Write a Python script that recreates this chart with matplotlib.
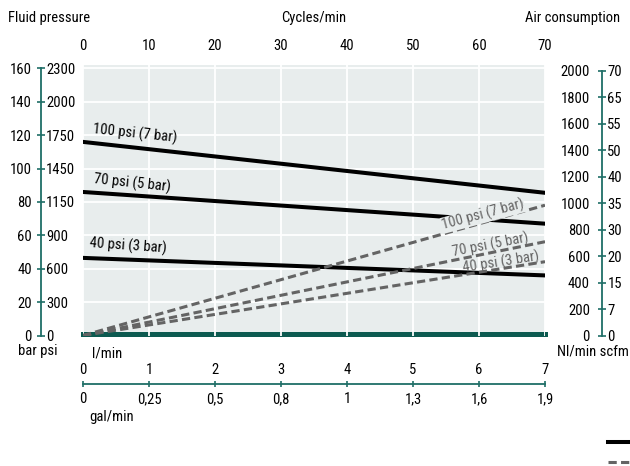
import numpy as np
import matplotlib.pyplot as plt
from matplotlib.lines import Line2D

plt.rcParams['font.family'] = ['Roboto Condensed', 'Liberation Sans Narrow', 'DejaVu Sans']
plt.rcParams['font.size'] = 10.5

# data
cycles = [0, 70]
p100_bar = [116, 85.5]
p70_bar = [86, 67]
p40_bar = [46.5, 36]
a100_nl = [0, 985]
a70_nl = [0, 709]
a40_nl = [0, 558]

cycle_ticks = [0, 10, 20, 30, 40, 50, 60, 70]
bar_ticks = [0, 20, 40, 60, 80, 100, 120, 140, 160]
psi_labels = ['0', '300', '600', '900', '1150', '1450', '1750', '2000', '2300']
nl_ticks = [0, 200, 400, 600, 800, 1000, 1200, 1400, 1600, 1800, 2000]
scfm_labels = ['0', '7', '15', '20', '30', '35', '40', '50', '55', '65', '70']
lmin_ticks = [0, 1, 2, 3, 4, 5, 6, 7]
gal_labels = ['0', '0,25', '0,5', '0,8', '1', '1,3', '1,6', '1,9']

teal = '#1f6e67'
dark_green = '#0c5a50'
grey = '#646464'
bg = '#e8eded'

W, H = 630, 466
fig = plt.figure(figsize=(W / 100, H / 100), dpi=100)

y0 = 335.5     # pixel row of zero
ytop = 65
bot = (H - y0) / H
hgt = (y0 - ytop) / H
bar_max = (y0 - ytop) / 1.669
nl_max = (y0 - ytop) * 7.56

# main plot area
ax = fig.add_axes([83 / W, bot, 462 / W, hgt])
ax.set_facecolor(bg)
ax.set_xlim(0, 70)
ax.set_ylim(0, bar_max)
ax.set_xticks(cycle_ticks)
ax.set_yticks(bar_ticks[1:])
ax.set_yticklabels([])
ax.tick_params(axis='y', length=0)
ax.xaxis.tick_top()
ax.tick_params(axis='x', length=0, pad=9)
ax.grid(color='white', lw=1.3)
ax.set_axisbelow(True)
for s in ax.spines.values():
    s.set_visible(False)
ax.axhline(0.6, color=dark_green, lw=3.6, clip_on=False, zorder=0.4)

ax.plot(cycles, p100_bar, color='black', lw=2.9, zorder=3)
ax.plot(cycles, p70_bar, color='black', lw=2.9, zorder=3)
ax.plot(cycles, p40_bar, color='black', lw=2.9, zorder=3)
ax.text(7.9, 121, '100 psi (7 bar)', ha='center', va='center', rotation=-6)
ax.text(7.4, 91, '70 psi (5 bar)', ha='center', va='center', rotation=-6)
ax.text(6.8, 53.4, '40 psi (3 bar)', ha='center', va='center', rotation=-4)

ax2 = ax.twinx()
ax2.set_ylim(0, nl_max)
ax2.set_yticks([])
for s in ax2.spines.values():
    s.set_visible(False)
for vals in (a100_nl, a70_nl, a40_nl):
    ax2.plot(cycles, vals, color=grey, lw=2.2, dashes=(2.7, 1.4), zorder=3)
ax2.text(60.6, 911, '100 psi (7 bar)', color=grey, ha='center', va='center',
         rotation=15, bbox=dict(facecolor=bg, edgecolor='none', pad=0.3))
ax2.text(61.8, 684, '70 psi (5 bar)', color=grey, ha='center', va='center', rotation=11)
ax2.text(63.3, 556, '40 psi (3 bar)', color=grey, ha='center', va='center', rotation=9)

# left scale (bar / psi)
axl = fig.add_axes([40.7 / W, bot, 0.0001, hgt])
axl.set_facecolor('none')
axl.set_ylim(0, bar_max)
axl.set_xticks([])
for k in ('top', 'right', 'bottom'):
    axl.spines[k].set_visible(False)
axl.spines['left'].set_color(teal)
axl.spines['left'].set_linewidth(1.3)
axl.spines['left'].set_bounds(0, 160)
axl.set_yticks(bar_ticks)
axl.tick_params(axis='y', direction='inout', length=5.5, width=1.2, color=teal, pad=3.7)
axl2 = axl.twinx()
axl2.set_ylim(0, bar_max)
for s in axl2.spines.values():
    s.set_visible(False)
axl2.set_yticks(bar_ticks)
axl2.set_yticklabels(psi_labels)
axl2.tick_params(axis='y', length=0, pad=3.8)

# right scale (Nl/min / scfm)
axr = fig.add_axes([601.7 / W, bot, 0.0001, hgt])
axr.set_facecolor('none')
axr.set_ylim(0, nl_max)
axr.set_xticks([])
for k in ('top', 'right', 'bottom'):
    axr.spines[k].set_visible(False)
axr.spines['left'].set_color(teal)
axr.spines['left'].set_linewidth(1.3)
axr.spines['left'].set_bounds(0, 2000)
axr.set_yticks(nl_ticks)
axr.tick_params(axis='y', direction='inout', length=5.5, width=1.2, color=teal, pad=5.7)
axr2 = axr.twinx()
axr2.set_ylim(0, nl_max)
for s in axr2.spines.values():
    s.set_visible(False)
axr2.set_yticks(nl_ticks)
axr2.set_yticklabels(scfm_labels)
axr2.tick_params(axis='y', length=0, pad=4)

# bottom scale (l/min / gal/min)
axb = fig.add_axes([83 / W, (H - 384) / H, 462 / W, 0.0001])
axb.set_facecolor('none')
axb.set_xlim(0, 7)
axb.set_yticks([])
for k in ('top', 'right', 'left'):
    axb.spines[k].set_visible(False)
axb.spines['bottom'].set_color(teal)
axb.spines['bottom'].set_linewidth(1.3)
axb.set_xticks(lmin_ticks)
axb.set_xticklabels(gal_labels)
axb.tick_params(axis='x', direction='inout', length=4.3, width=1.2, color=teal, pad=3.5)
axb2 = axb.twiny()
axb2.set_xlim(0, 7)
for s in axb2.spines.values():
    s.set_visible(False)
axb2.set_xticks(lmin_ticks)
axb2.tick_params(axis='x', length=0, pad=5)

# titles and unit labels
fig.text(8 / W, 1 - 18 / H, 'Fluid pressure', ha='left', va='center')
fig.text(314 / W, 1 - 18 / H, 'Cycles/min', ha='center', va='center')
fig.text(620 / W, 1 - 18 / H, 'Air consumption', ha='right', va='center')
fig.text(38 / W, 1 - 351 / H, 'bar psi', ha='center', va='center')
fig.text(629 / W, 1 - 351 / H, 'Nl/min scfm', ha='right', va='center')
fig.text(92 / W, 1 - 353 / H, 'l/min', ha='left', va='center')
fig.text(89 / W, 1 - 416.5 / H, 'gal/min', ha='left', va='center')

# key at bottom right
handles = [Line2D([], [], color='black', lw=2.9),
           Line2D([], [], color=grey, lw=2.2, dashes=(2.7, 1.4))]
fig.legend(handles, ['', ''], loc='upper right', bbox_to_anchor=(1.0, 1 - 436 / H),
           frameon=False, handlelength=1.5, handletextpad=0, borderpad=0,
           labelspacing=0.45, borderaxespad=0)

fig.savefig('out.png', dpi=100)
